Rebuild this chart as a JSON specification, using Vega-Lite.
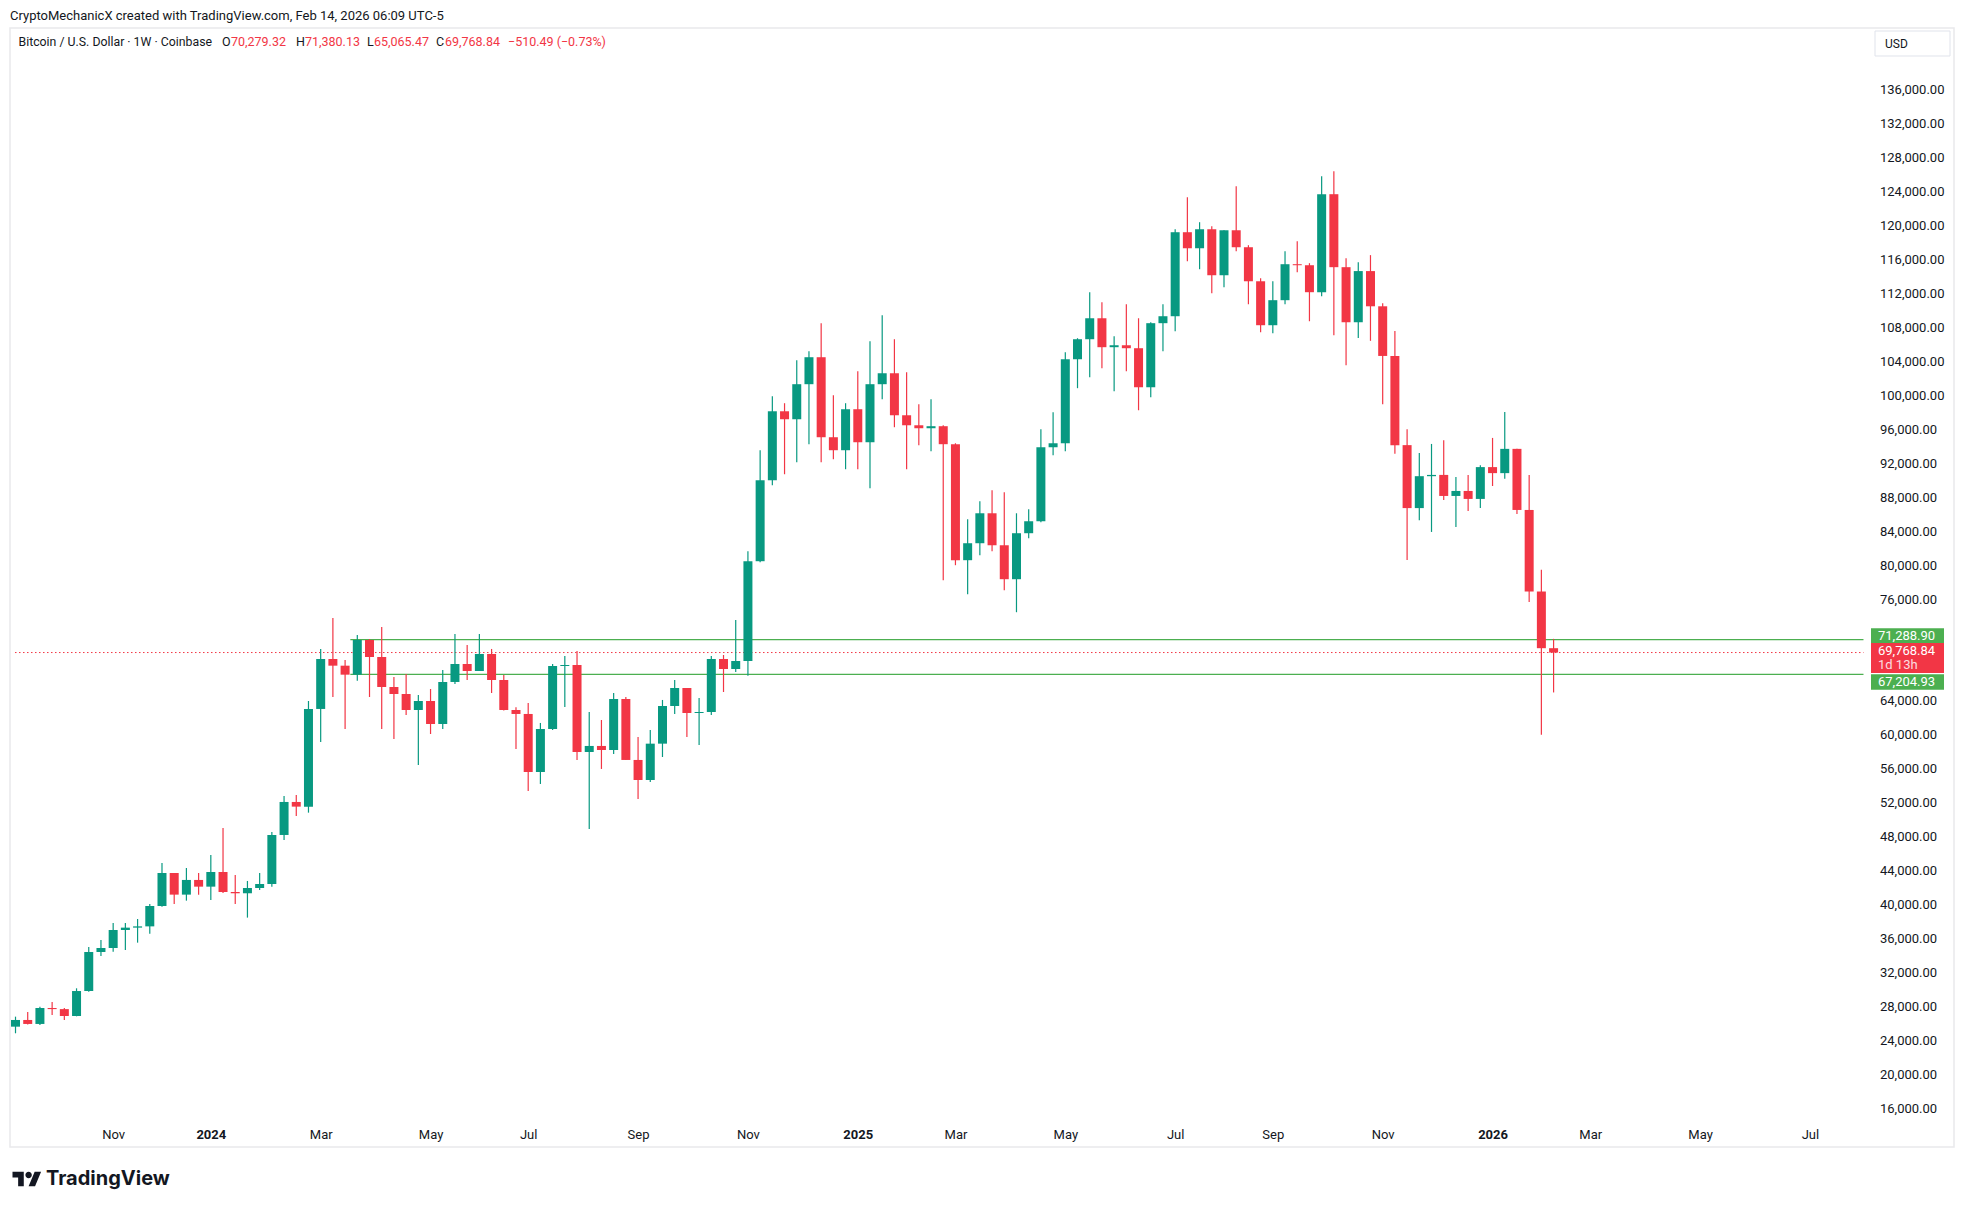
{
  "$schema": "https://vega.github.io/schema/vega-lite/v6.json",
  "width": 1944,
  "height": 1119,
  "autosize": {"type": "none"},
  "padding": {"left": 10, "top": 28, "right": 12, "bottom": 62},
  "background": "#ffffff",
  "config": {
    "view": {"stroke": "#e9e9ec", "strokeWidth": 1.5},
    "font": "Roboto"
  },
  "title": {
    "text": "CryptoMechanicX created with TradingView.com, Feb 14, 2026 06:09 UTC-5",
    "anchor": "start",
    "frame": "group",
    "font": "Roboto",
    "fontSize": 13,
    "fontWeight": "normal",
    "color": "#131722",
    "offset": 5
  },
  "data": {"values": [{}]},
  "datasets": {
    "candles": [
      {"t": "2023-09-11", "o": 25680, "h": 26860, "l": 24900, "c": 26470},
      {"t": "2023-09-18", "o": 26470, "h": 27410, "l": 25950, "c": 26000},
      {"t": "2023-09-25", "o": 26000, "h": 28040, "l": 25880, "c": 27880},
      {"t": "2023-10-02", "o": 27880, "h": 28590, "l": 27060, "c": 27750},
      {"t": "2023-10-09", "o": 27750, "h": 27880, "l": 26470, "c": 26940},
      {"t": "2023-10-16", "o": 26940, "h": 30200, "l": 26900, "c": 29880},
      {"t": "2023-10-23", "o": 29880, "h": 35070, "l": 29800, "c": 34480},
      {"t": "2023-10-30", "o": 34480, "h": 35900, "l": 34010, "c": 34950},
      {"t": "2023-11-06", "o": 34950, "h": 37900, "l": 34520, "c": 37070},
      {"t": "2023-11-13", "o": 37070, "h": 37900, "l": 34720, "c": 37350},
      {"t": "2023-11-20", "o": 37350, "h": 38370, "l": 35580, "c": 37500},
      {"t": "2023-11-27", "o": 37500, "h": 40140, "l": 36640, "c": 39900},
      {"t": "2023-12-04", "o": 39900, "h": 44970, "l": 39820, "c": 43790},
      {"t": "2023-12-11", "o": 43790, "h": 43790, "l": 40140, "c": 41240},
      {"t": "2023-12-18", "o": 41240, "h": 44380, "l": 40530, "c": 42970},
      {"t": "2023-12-25", "o": 42970, "h": 43790, "l": 41240, "c": 42180},
      {"t": "2024-01-01", "o": 42180, "h": 45910, "l": 40610, "c": 43910},
      {"t": "2024-01-08", "o": 43910, "h": 49090, "l": 41430, "c": 41550},
      {"t": "2024-01-15", "o": 41550, "h": 43550, "l": 40140, "c": 41400},
      {"t": "2024-01-22", "o": 41400, "h": 42850, "l": 38530, "c": 42020},
      {"t": "2024-01-29", "o": 42020, "h": 43790, "l": 41790, "c": 42490},
      {"t": "2024-02-05", "o": 42490, "h": 48620, "l": 42180, "c": 48270},
      {"t": "2024-02-12", "o": 48270, "h": 52860, "l": 47680, "c": 52160},
      {"t": "2024-02-19", "o": 52160, "h": 52980, "l": 50510, "c": 51610},
      {"t": "2024-02-26", "o": 51610, "h": 64060, "l": 50900, "c": 63120},
      {"t": "2024-03-04", "o": 63120, "h": 70190, "l": 59230, "c": 69010},
      {"t": "2024-03-11", "o": 69010, "h": 73840, "l": 64530, "c": 68220},
      {"t": "2024-03-18", "o": 68220, "h": 68890, "l": 60760, "c": 67160},
      {"t": "2024-03-25", "o": 67160, "h": 71840, "l": 66450, "c": 71250},
      {"t": "2024-04-01", "o": 71250, "h": 71360, "l": 64530, "c": 69240},
      {"t": "2024-04-08", "o": 69240, "h": 72780, "l": 60760, "c": 65710},
      {"t": "2024-04-15", "o": 65710, "h": 66890, "l": 59580, "c": 64880},
      {"t": "2024-04-22", "o": 64880, "h": 67240, "l": 62410, "c": 63000},
      {"t": "2024-04-29", "o": 63000, "h": 64770, "l": 56520, "c": 64060},
      {"t": "2024-05-06", "o": 64060, "h": 65470, "l": 60170, "c": 61350},
      {"t": "2024-05-13", "o": 61350, "h": 67710, "l": 60760, "c": 66300},
      {"t": "2024-05-20", "o": 66300, "h": 71950, "l": 66060, "c": 68420},
      {"t": "2024-05-27", "o": 68420, "h": 70660, "l": 66530, "c": 67590},
      {"t": "2024-06-03", "o": 67590, "h": 71950, "l": 67590, "c": 69600},
      {"t": "2024-06-10", "o": 69600, "h": 70190, "l": 65000, "c": 66530},
      {"t": "2024-06-17", "o": 66530, "h": 67120, "l": 62950, "c": 63000},
      {"t": "2024-06-24", "o": 63000, "h": 63310, "l": 58400, "c": 62530},
      {"t": "2024-07-01", "o": 62530, "h": 63820, "l": 53450, "c": 55690},
      {"t": "2024-07-08", "o": 55690, "h": 61470, "l": 54280, "c": 60760},
      {"t": "2024-07-15", "o": 60760, "h": 68420, "l": 60640, "c": 68180},
      {"t": "2024-07-22", "o": 68180, "h": 69360, "l": 63350, "c": 68300},
      {"t": "2024-07-29", "o": 68300, "h": 69950, "l": 57100, "c": 58050},
      {"t": "2024-08-05", "o": 58050, "h": 62760, "l": 48980, "c": 58760},
      {"t": "2024-08-12", "o": 58760, "h": 61820, "l": 56050, "c": 58280},
      {"t": "2024-08-19", "o": 58280, "h": 65000, "l": 57810, "c": 64290},
      {"t": "2024-08-26", "o": 64290, "h": 64530, "l": 57100, "c": 57110},
      {"t": "2024-09-02", "o": 57110, "h": 59820, "l": 52510, "c": 54750},
      {"t": "2024-09-09", "o": 54750, "h": 60640, "l": 54510, "c": 59030},
      {"t": "2024-09-16", "o": 59030, "h": 64180, "l": 57460, "c": 63470},
      {"t": "2024-09-23", "o": 63470, "h": 66530, "l": 62530, "c": 65590},
      {"t": "2024-09-30", "o": 65590, "h": 65590, "l": 59820, "c": 62640},
      {"t": "2024-10-07", "o": 62640, "h": 64410, "l": 58870, "c": 62760},
      {"t": "2024-10-14", "o": 62760, "h": 69360, "l": 62410, "c": 69010},
      {"t": "2024-10-21", "o": 69010, "h": 69480, "l": 65120, "c": 67830},
      {"t": "2024-10-28", "o": 67830, "h": 73600, "l": 67480, "c": 68770},
      {"t": "2024-11-04", "o": 68770, "h": 81710, "l": 67020, "c": 80530},
      {"t": "2024-11-11", "o": 80530, "h": 93610, "l": 80410, "c": 90070},
      {"t": "2024-11-18", "o": 90070, "h": 99970, "l": 89480, "c": 98200},
      {"t": "2024-11-25", "o": 98200, "h": 99150, "l": 90780, "c": 97260},
      {"t": "2024-12-02", "o": 97260, "h": 104210, "l": 92190, "c": 101390},
      {"t": "2024-12-09", "o": 101390, "h": 105270, "l": 94320, "c": 104570},
      {"t": "2024-12-16", "o": 104570, "h": 108570, "l": 92190, "c": 95140},
      {"t": "2024-12-23", "o": 95140, "h": 100090, "l": 92550, "c": 93610},
      {"t": "2024-12-30", "o": 93610, "h": 99150, "l": 91370, "c": 98440},
      {"t": "2025-01-06", "o": 98440, "h": 102920, "l": 91370, "c": 94550},
      {"t": "2025-01-13", "o": 94550, "h": 106450, "l": 89130, "c": 101390},
      {"t": "2025-01-20", "o": 101390, "h": 109520, "l": 99620, "c": 102680},
      {"t": "2025-01-27", "o": 102680, "h": 106690, "l": 96320, "c": 97730},
      {"t": "2025-02-03", "o": 97730, "h": 102800, "l": 91370, "c": 96550},
      {"t": "2025-02-10", "o": 96550, "h": 99030, "l": 94200, "c": 96200},
      {"t": "2025-02-17", "o": 96200, "h": 99620, "l": 93490, "c": 96440},
      {"t": "2025-02-24", "o": 96440, "h": 96550, "l": 78290, "c": 94320},
      {"t": "2025-03-03", "o": 94320, "h": 94430, "l": 80060, "c": 80650},
      {"t": "2025-03-10", "o": 80650, "h": 85480, "l": 76640, "c": 82650},
      {"t": "2025-03-17", "o": 82650, "h": 87600, "l": 81240, "c": 86180},
      {"t": "2025-03-24", "o": 86180, "h": 88900, "l": 81710, "c": 82410},
      {"t": "2025-03-31", "o": 82410, "h": 88660, "l": 77110, "c": 78410},
      {"t": "2025-04-07", "o": 78410, "h": 86180, "l": 74520, "c": 83830},
      {"t": "2025-04-14", "o": 83830, "h": 86660, "l": 83240, "c": 85240},
      {"t": "2025-04-21", "o": 85240, "h": 96080, "l": 85120, "c": 93960},
      {"t": "2025-04-28", "o": 93960, "h": 98090, "l": 93020, "c": 94430},
      {"t": "2025-05-05", "o": 94430, "h": 105160, "l": 93490, "c": 104330},
      {"t": "2025-05-12", "o": 104330, "h": 106810, "l": 100920, "c": 106690},
      {"t": "2025-05-19", "o": 106690, "h": 112230, "l": 102210, "c": 109160},
      {"t": "2025-05-26", "o": 109160, "h": 111050, "l": 103270, "c": 105750},
      {"t": "2025-06-02", "o": 105750, "h": 107040, "l": 100560, "c": 105980},
      {"t": "2025-06-09", "o": 105980, "h": 110810, "l": 102920, "c": 105630},
      {"t": "2025-06-16", "o": 105630, "h": 109160, "l": 98320, "c": 101030},
      {"t": "2025-06-23", "o": 101030, "h": 108690, "l": 99860, "c": 108580},
      {"t": "2025-06-30", "o": 108580, "h": 110810, "l": 105280, "c": 109400},
      {"t": "2025-07-07", "o": 109400, "h": 119650, "l": 107630, "c": 119300},
      {"t": "2025-07-14", "o": 119300, "h": 123420, "l": 115880, "c": 117410},
      {"t": "2025-07-21", "o": 117410, "h": 120480, "l": 114940, "c": 119650},
      {"t": "2025-07-28", "o": 119650, "h": 120010, "l": 112110, "c": 114230},
      {"t": "2025-08-04", "o": 114230, "h": 119530, "l": 112820, "c": 119530},
      {"t": "2025-08-11", "o": 119530, "h": 124720, "l": 117060, "c": 117530},
      {"t": "2025-08-18", "o": 117530, "h": 117770, "l": 110810, "c": 113520},
      {"t": "2025-08-25", "o": 113520, "h": 113880, "l": 107510, "c": 108340},
      {"t": "2025-09-01", "o": 108340, "h": 113520, "l": 107400, "c": 111290},
      {"t": "2025-09-08", "o": 111290, "h": 117060, "l": 110810, "c": 115530},
      {"t": "2025-09-15", "o": 115530, "h": 118240, "l": 114580, "c": 115410},
      {"t": "2025-09-22", "o": 115410, "h": 115650, "l": 108810, "c": 112230},
      {"t": "2025-09-29", "o": 112230, "h": 125900, "l": 111760, "c": 123780},
      {"t": "2025-10-06", "o": 123780, "h": 126490, "l": 107160, "c": 115180},
      {"t": "2025-10-13", "o": 115180, "h": 116240, "l": 103630, "c": 108690},
      {"t": "2025-10-20", "o": 108690, "h": 115750, "l": 106820, "c": 114720},
      {"t": "2025-10-27", "o": 114720, "h": 116600, "l": 106500, "c": 110570},
      {"t": "2025-11-03", "o": 110570, "h": 110930, "l": 99040, "c": 104720},
      {"t": "2025-11-10", "o": 104720, "h": 107660, "l": 93190, "c": 94210},
      {"t": "2025-11-17", "o": 94210, "h": 96090, "l": 80670, "c": 86790},
      {"t": "2025-11-24", "o": 86790, "h": 93270, "l": 85360, "c": 90550},
      {"t": "2025-12-01", "o": 90550, "h": 94350, "l": 83980, "c": 90700},
      {"t": "2025-12-08", "o": 90700, "h": 94790, "l": 87730, "c": 88220},
      {"t": "2025-12-15", "o": 88220, "h": 90460, "l": 84560, "c": 88810},
      {"t": "2025-12-22", "o": 88810, "h": 90680, "l": 86440, "c": 87870},
      {"t": "2025-12-29", "o": 87870, "h": 91840, "l": 86790, "c": 91620},
      {"t": "2026-01-05", "o": 91620, "h": 95060, "l": 89390, "c": 90910},
      {"t": "2026-01-12", "o": 90910, "h": 98100, "l": 90240, "c": 93770},
      {"t": "2026-01-19", "o": 93770, "h": 93770, "l": 86080, "c": 86570},
      {"t": "2026-01-26", "o": 86570, "h": 90680, "l": 75710, "c": 76960},
      {"t": "2026-02-02", "o": 76960, "h": 79510, "l": 60070, "c": 70280},
      {"t": "2026-02-09", "o": 70279.32, "h": 71380.13, "l": 65065.47, "c": 69768.84}
    ],
    "levels": [
      {"start": "2024-03-21", "price": 71288.90},
      {"start": "2024-03-21", "price": 67204.93}
    ],
    "priceTicks": [
      {"price": 16000}, {"price": 20000}, {"price": 24000}, {"price": 28000},
      {"price": 32000}, {"price": 36000}, {"price": 40000}, {"price": 44000},
      {"price": 48000}, {"price": 52000}, {"price": 56000}, {"price": 60000},
      {"price": 64000}, {"price": 76000}, {"price": 80000}, {"price": 84000},
      {"price": 88000}, {"price": 92000}, {"price": 96000}, {"price": 100000},
      {"price": 104000}, {"price": 108000}, {"price": 112000}, {"price": 116000},
      {"price": 120000}, {"price": 124000}, {"price": 128000}, {"price": 132000},
      {"price": 136000}
    ]
  },
  "layer": [
    {
      "mark": {"type": "rule", "stroke": "#F23645", "strokeWidth": 1, "strokeDash": [1.5, 2.5]},
      "encoding": {
        "x": {"datum": {"year": 2023, "month": 9, "date": 10, "hours": 17, "utc": true}, "type": "temporal",
              "scale": {"type": "utc", "domain": [{"year": 2023, "month": 9, "date": 10, "hours": 17, "utc": true}, {"year": 2026, "month": 9, "date": 23, "hours": 18, "utc": true}]}, "title": null},
        "x2": {"datum": {"year": 2026, "month": 8, "date": 5, "hours": 17, "utc": true}},
        "y": {"datum": 69768.84, "type": "quantitative", "scale": {"domain": [11500, 143365], "zero": false, "nice": false}, "axis": null}
      }
    },
    {
      "data": {"name": "levels"},
      "mark": {"type": "rule", "stroke": "#4CAF50", "strokeWidth": 1.2},
      "encoding": {
        "x": {"field": "start", "type": "temporal",
              "scale": {"type": "utc", "domain": [{"year": 2023, "month": 9, "date": 10, "hours": 17, "utc": true}, {"year": 2026, "month": 9, "date": 23, "hours": 18, "utc": true}]}, "title": null},
        "x2": {"datum": {"year": 2026, "month": 8, "date": 5, "hours": 17, "utc": true}},
        "y": {"field": "price", "type": "quantitative", "scale": {"domain": [11500, 143365], "zero": false, "nice": false}, "axis": null}
      }
    },
    {
      "data": {"name": "candles"},
      "mark": {"type": "rule", "strokeWidth": 1.2, "clip": true},
      "encoding": {
        "x": {
          "field": "t", "type": "temporal", "title": null,
          "scale": {"type": "utc", "domain": [{"year": 2023, "month": 9, "date": 10, "hours": 17, "utc": true}, {"year": 2026, "month": 9, "date": 23, "hours": 18, "utc": true}]},
          "axis": {
            "values": [
              {"year": 2023, "month": 11, "date": 6, "utc": true},
              {"year": 2024, "month": 1, "date": 1, "utc": true},
              {"year": 2024, "month": 3, "date": 4, "utc": true},
              {"year": 2024, "month": 5, "date": 6, "utc": true},
              {"year": 2024, "month": 7, "date": 1, "utc": true},
              {"year": 2024, "month": 9, "date": 2, "utc": true},
              {"year": 2024, "month": 11, "date": 4, "utc": true},
              {"year": 2025, "month": 1, "date": 6, "utc": true},
              {"year": 2025, "month": 3, "date": 3, "utc": true},
              {"year": 2025, "month": 5, "date": 5, "utc": true},
              {"year": 2025, "month": 7, "date": 7, "utc": true},
              {"year": 2025, "month": 9, "date": 1, "utc": true},
              {"year": 2025, "month": 11, "date": 3, "utc": true},
              {"year": 2026, "month": 1, "date": 5, "utc": true},
              {"year": 2026, "month": 3, "date": 2, "utc": true},
              {"year": 2026, "month": 5, "date": 4, "utc": true},
              {"year": 2026, "month": 7, "date": 6, "utc": true}
            ],
            "labelExpr": "utcmonth(datum.value) == 0 ? utcFormat(datum.value, '%Y') : utcFormat(datum.value, '%b')",
            "labelFontWeight": {"condition": {"test": "utcmonth(datum.value) == 0", "value": "bold"}, "value": "normal"},
            "offset": -26,
            "labelPadding": 7,
            "ticks": false,
            "domain": false,
            "grid": false,
            "labelFlush": false,
            "labelOverlap": false,
            "labelFont": "Roboto",
            "labelFontSize": 13,
            "labelColor": "#131722"
          }
        },
        "y": {"field": "l", "type": "quantitative", "scale": {"domain": [11500, 143365], "zero": false, "nice": false}, "axis": null},
        "y2": {"field": "h"},
        "color": {"condition": {"test": "datum.c >= datum.o", "value": "#089981"}, "value": "#F23645"}
      }
    },
    {
      "data": {"name": "candles"},
      "mark": {"type": "bar", "width": 9, "clip": true},
      "encoding": {
        "x": {"field": "t", "type": "temporal", "title": null,
              "scale": {"type": "utc", "domain": [{"year": 2023, "month": 9, "date": 10, "hours": 17, "utc": true}, {"year": 2026, "month": 9, "date": 23, "hours": 18, "utc": true}]}},
        "y": {"field": "o", "type": "quantitative", "scale": {"domain": [11500, 143365], "zero": false, "nice": false}, "axis": null},
        "y2": {"field": "c"},
        "color": {"condition": {"test": "datum.c >= datum.o", "value": "#089981"}, "value": "#F23645"}
      }
    },
    {
      "data": {"name": "priceTicks"},
      "mark": {"type": "text", "align": "left", "baseline": "middle", "dx": -74, "font": "Roboto", "fontSize": 13, "color": "#131722"},
      "encoding": {
        "x": {"value": "width"},
        "y": {"field": "price", "type": "quantitative", "scale": {"domain": [11500, 143365], "zero": false, "nice": false}, "axis": null},
        "text": {"field": "price", "type": "quantitative", "format": ",.2f"}
      }
    },
    {
      "mark": {"type": "point", "filled": true, "opacity": 1, "color": "#4CAF50", "shape": "M-1,-0.205L1,-0.205L1,0.205L-1,0.205Z", "size": 5329, "xOffset": -46.5, "yOffset": -4},
      "encoding": {"x": {"value": "width"}, "y": {"datum": 71288.90, "type": "quantitative", "axis": null}}
    },
    {
      "mark": {"type": "point", "filled": true, "opacity": 1, "color": "#F23645", "shape": "M-1,-0.411L1,-0.411L1,0.411L-1,0.411Z", "size": 5329, "xOffset": -46.5, "yOffset": 5.5},
      "encoding": {"x": {"value": "width"}, "y": {"datum": 69768.84, "type": "quantitative", "axis": null}}
    },
    {
      "mark": {"type": "point", "filled": true, "opacity": 1, "color": "#4CAF50", "shape": "M-1,-0.215L1,-0.215L1,0.215L-1,0.215Z", "size": 5329, "xOffset": -46.5, "yOffset": 7.7},
      "encoding": {"x": {"value": "width"}, "y": {"datum": 67204.93, "type": "quantitative", "axis": null}}
    },
    {
      "mark": {"type": "text", "text": "71,288.90", "align": "left", "baseline": "middle", "dx": -76, "dy": -4, "font": "Roboto", "fontSize": 13, "color": "#ffffff"},
      "encoding": {"x": {"value": "width"}, "y": {"datum": 71288.90, "type": "quantitative", "axis": null}}
    },
    {
      "mark": {"type": "text", "text": "69,768.84", "align": "left", "baseline": "middle", "dx": -76, "dy": -1.5, "font": "Roboto", "fontSize": 13, "color": "#ffffff"},
      "encoding": {"x": {"value": "width"}, "y": {"datum": 69768.84, "type": "quantitative", "axis": null}}
    },
    {
      "mark": {"type": "text", "text": "1d 13h", "align": "left", "baseline": "middle", "dx": -76, "dy": 12.5, "font": "Roboto", "fontSize": 13, "color": "#fcdde0"},
      "encoding": {"x": {"value": "width"}, "y": {"datum": 69768.84, "type": "quantitative", "axis": null}}
    },
    {
      "mark": {"type": "text", "text": "67,204.93", "align": "left", "baseline": "middle", "dx": -76, "dy": 7.7, "font": "Roboto", "fontSize": 13, "color": "#ffffff"},
      "encoding": {"x": {"value": "width"}, "y": {"datum": 67204.93, "type": "quantitative", "axis": null}}
    },
    {
      "mark": {"type": "point", "filled": true, "opacity": 1, "fill": "#ffffff", "stroke": "#e0e3eb", "strokeWidth": 1, "shape": "M-1,-0.333L1,-0.333L1,0.333L-1,0.333Z", "size": 5625, "xOffset": -41.5},
      "encoding": {"x": {"value": "width"}, "y": {"value": 15.5}}
    },
    {
      "mark": {"type": "text", "text": "USD", "align": "left", "baseline": "middle", "dx": -69, "font": "Roboto", "fontSize": 12, "color": "#131722"},
      "encoding": {"x": {"value": "width"}, "y": {"value": 15.5}}
    },
    {
      "mark": {"type": "text", "text": "Bitcoin / U.S. Dollar · 1W · Coinbase", "align": "left", "baseline": "middle", "font": "Roboto", "fontSize": 12.3, "color": "#131722"},
      "encoding": {"x": {"value": 8.5}, "y": {"value": 14}}
    },
    {
      "mark": {"type": "text", "text": "O", "align": "left", "baseline": "middle", "font": "Roboto", "fontSize": 12.5, "color": "#131722"},
      "encoding": {"x": {"value": 212}, "y": {"value": 14}}
    },
    {
      "mark": {"type": "text", "text": "70,279.32", "align": "left", "baseline": "middle", "font": "Roboto", "fontSize": 12.5, "color": "#F23645"},
      "encoding": {"x": {"value": 221}, "y": {"value": 14}}
    },
    {
      "mark": {"type": "text", "text": "H", "align": "left", "baseline": "middle", "font": "Roboto", "fontSize": 12.5, "color": "#131722"},
      "encoding": {"x": {"value": 286}, "y": {"value": 14}}
    },
    {
      "mark": {"type": "text", "text": "71,380.13", "align": "left", "baseline": "middle", "font": "Roboto", "fontSize": 12.5, "color": "#F23645"},
      "encoding": {"x": {"value": 295}, "y": {"value": 14}}
    },
    {
      "mark": {"type": "text", "text": "L", "align": "left", "baseline": "middle", "font": "Roboto", "fontSize": 12.5, "color": "#131722"},
      "encoding": {"x": {"value": 357}, "y": {"value": 14}}
    },
    {
      "mark": {"type": "text", "text": "65,065.47", "align": "left", "baseline": "middle", "font": "Roboto", "fontSize": 12.5, "color": "#F23645"},
      "encoding": {"x": {"value": 364}, "y": {"value": 14}}
    },
    {
      "mark": {"type": "text", "text": "C", "align": "left", "baseline": "middle", "font": "Roboto", "fontSize": 12.5, "color": "#131722"},
      "encoding": {"x": {"value": 426}, "y": {"value": 14}}
    },
    {
      "mark": {"type": "text", "text": "69,768.84", "align": "left", "baseline": "middle", "font": "Roboto", "fontSize": 12.5, "color": "#F23645"},
      "encoding": {"x": {"value": 435}, "y": {"value": 14}}
    },
    {
      "mark": {"type": "text", "text": "−510.49 (−0.73%)", "align": "left", "baseline": "middle", "font": "Roboto", "fontSize": 12.5, "color": "#F23645"},
      "encoding": {"x": {"value": 498}, "y": {"value": 14}}
    },
    {
      "mark": {"type": "point", "filled": true, "opacity": 1, "color": "#131722", "size": 841, "yOffset": 32,
               "shape": "M-1,-0.5L-0.222,-0.5L-0.222,0.5L-0.611,0.5L-0.611,-0.111L-1,-0.111Z M0.528,-0.5L0.972,-0.5L0.556,0.5L0.111,0.5Z M0.333,-0.278A0.222,0.222,0,1,1,-0.111,-0.278A0.222,0.222,0,1,1,0.333,-0.278Z"},
      "encoding": {"x": {"value": 17}, "y": {"value": "height"}}
    },
    {
      "mark": {"type": "text", "text": "TradingView", "align": "left", "baseline": "middle", "dy": 32, "font": "Inter", "fontSize": 20, "fontWeight": "bold", "color": "#131722"},
      "encoding": {"x": {"value": 36}, "y": {"value": "height"}}
    }
  ]
}
